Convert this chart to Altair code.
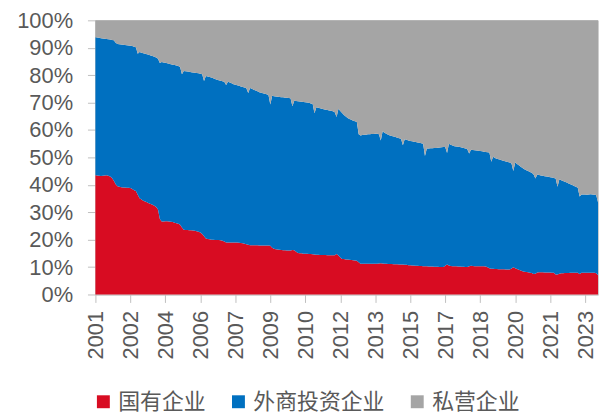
import altair as alt
import pandas as pd

# Monthly shares (%); one inner list per year block (12 months each).
# Cumulative share of 国有企业 + 外商投资企业 (top of the blue area)
state_foreign_cum = [
    [93.8, 93.7, 93.6, 93.5, 93.4, 93.3, 93.2, 93.1, 93.0, 92.8, 92.7, 91.8],
    [91.4, 91.3, 91.2, 91.1, 91.0, 90.9, 90.8, 90.7, 90.6, 90.4, 90.2, 87.8],
    [88.4, 88.2, 88.0, 87.8, 87.6, 87.4, 87.2, 87.0, 86.7, 86.4, 86.0, 84.4],
    [84.8, 84.6, 84.5, 84.3, 84.2, 84.0, 83.8, 83.7, 83.5, 83.3, 83.0, 80.3],
    [81.5, 81.4, 81.3, 81.2, 81.1, 81.0, 80.9, 80.8, 80.7, 80.5, 80.3, 77.9],
    [79.7, 79.5, 79.3, 79.1, 78.9, 78.6, 78.3, 78.1, 78.0, 77.8, 77.6, 76.4],
    [77.6, 77.3, 77.0, 76.7, 76.5, 76.3, 76.1, 75.9, 75.7, 75.5, 75.2, 73.5],
    [75.3, 75.0, 74.7, 74.4, 74.1, 73.8, 73.6, 73.4, 73.2, 73.0, 72.8, 69.3],
    [72.5, 72.3, 72.2, 72.1, 72.0, 71.9, 71.9, 71.8, 71.8, 71.7, 71.6, 68.7],
    [70.7, 70.6, 70.5, 70.4, 70.3, 70.2, 70.1, 70.0, 69.9, 69.7, 69.5, 66.1],
    [68.3, 68.1, 67.9, 67.7, 67.6, 67.4, 67.3, 67.1, 67.0, 66.8, 66.5, 64.7],
    [67.7, 66.9, 66.2, 65.5, 64.9, 64.4, 64.0, 63.7, 63.4, 63.2, 62.9, 58.4],
    [58.0, 58.2, 58.3, 58.3, 58.4, 58.4, 58.5, 58.5, 58.6, 58.6, 58.4, 56.2],
    [59.5, 59.0, 58.6, 58.3, 58.0, 57.8, 57.6, 57.4, 57.2, 57.0, 56.8, 54.4],
    [56.6, 56.4, 56.2, 56.0, 55.9, 55.7, 55.6, 55.4, 55.3, 55.2, 55.0, 50.5],
    [53.2, 53.2, 53.3, 53.3, 53.4, 53.4, 53.5, 53.6, 53.7, 53.8, 53.8, 51.6],
    [55.0, 54.6, 54.3, 54.1, 54.0, 53.9, 53.8, 53.6, 53.4, 53.2, 53.0, 51.4],
    [52.8, 52.7, 52.6, 52.5, 52.4, 52.3, 52.2, 52.1, 52.0, 51.9, 51.8, 48.4],
    [50.2, 49.8, 49.5, 49.3, 49.1, 48.9, 48.7, 48.5, 48.3, 48.1, 47.8, 45.0],
    [48.1, 47.6, 47.1, 46.6, 46.1, 45.7, 45.3, 45.0, 44.7, 44.4, 43.8, 42.3],
    [43.8, 43.6, 43.4, 43.3, 43.1, 43.0, 42.9, 42.8, 42.7, 42.5, 42.3, 39.3],
    [42.0, 41.7, 41.4, 41.1, 40.8, 40.5, 40.2, 39.9, 39.6, 39.3, 38.9, 35.7],
    [36.5, 36.5, 36.5, 36.4, 36.5, 36.6, 36.5, 36.4, 36.3, 33.6],
]

# Share of 国有企业 (top of the red area)
state_share = [
    [43.5, 43.4, 43.3, 43.2, 43.3, 43.4, 43.5, 43.3, 43.0, 42.5, 41.5, 40.2],
    [39.5, 39.3, 39.1, 39.0, 39.0, 38.9, 38.9, 38.8, 38.5, 38.0, 37.7, 36.4],
    [35.1, 34.6, 34.2, 33.9, 33.6, 33.3, 33.0, 32.7, 32.4, 31.9, 31.0, 27.5],
    [26.6, 26.6, 26.7, 26.7, 26.6, 26.5, 26.4, 26.2, 26.0, 25.8, 25.4, 24.4],
    [23.6, 23.5, 23.5, 23.4, 23.4, 23.3, 23.2, 23.1, 22.9, 22.6, 22.1, 21.2],
    [20.4, 20.2, 20.1, 20.0, 20.0, 19.9, 19.9, 19.9, 19.8, 19.6, 19.3, 19.0],
    [19.0, 19.0, 19.0, 19.0, 19.0, 19.0, 18.9, 18.8, 18.7, 18.5, 18.3, 18.1],
    [18.0, 18.0, 18.0, 18.0, 18.0, 17.9, 17.9, 17.9, 17.9, 17.9, 17.9, 17.8],
    [17.0, 16.7, 16.5, 16.4, 16.3, 16.2, 16.1, 16.1, 16.0, 16.0, 16.0, 16.2],
    [16.1, 15.6, 15.1, 15.0, 15.0, 14.9, 14.9, 14.9, 14.8, 14.8, 14.7, 14.6],
    [14.5, 14.5, 14.4, 14.4, 14.4, 14.4, 14.3, 14.3, 14.3, 14.3, 14.3, 14.8],
    [14.2, 13.5, 12.9, 12.9, 12.8, 12.8, 12.7, 12.6, 12.5, 12.4, 12.3, 11.8],
    [11.2, 11.2, 11.2, 11.2, 11.2, 11.2, 11.2, 11.2, 11.2, 11.2, 11.3, 11.4],
    [11.3, 11.2, 11.2, 11.1, 11.1, 11.1, 11.0, 11.0, 11.0, 10.9, 10.9, 10.9],
    [10.8, 10.8, 10.7, 10.7, 10.6, 10.6, 10.5, 10.5, 10.4, 10.4, 10.3, 10.3],
    [10.3, 10.2, 10.2, 10.2, 10.1, 10.1, 10.1, 10.0, 10.0, 10.0, 10.5, 10.9],
    [10.6, 10.4, 10.3, 10.3, 10.3, 10.2, 10.2, 10.1, 10.1, 10.0, 10.0, 10.3],
    [10.5, 10.4, 10.3, 10.3, 10.3, 10.3, 10.3, 10.3, 10.2, 9.9, 9.6, 9.4],
    [9.4, 9.3, 9.3, 9.2, 9.2, 9.2, 9.2, 9.1, 9.1, 9.1, 9.5, 9.9],
    [9.6, 9.3, 9.0, 8.7, 8.5, 8.3, 8.2, 8.1, 7.9, 7.8, 7.5, 7.6],
    [8.0, 8.1, 8.1, 8.1, 8.0, 8.0, 8.0, 8.0, 7.9, 7.9, 7.3, 7.3],
    [7.6, 7.7, 7.7, 7.8, 7.8, 7.8, 7.9, 7.9, 7.9, 7.9, 7.9, 7.5],
    [7.9, 7.9, 7.9, 7.9, 7.9, 7.9, 7.9, 7.9, 7.7, 7.0],
]

series_names = ["国有企业", "外商投资企业", "私营企业"]
series_colors = ["#D80C22", "#0070C0", "#A5A5A5"]
x_tick_labels = ["2001", "2002", "2004", "2006", "2007", "2009", "2010", "2012",
                 "2013", "2015", "2017", "2018", "2020", "2021", "2023"]
label_step = 19  # category-axis label interval (months)

cum = [v for blk in state_foreign_cum for v in blk]
red = [v for blk in state_share for v in blk]
n = len(cum)

rows = []
for i in range(n):
    rows.append({"idx": i, "series": series_names[0], "ord": 0, "value": red[i]})
    rows.append({"idx": i, "series": series_names[1], "ord": 1, "value": round(cum[i] - red[i], 2)})
    rows.append({"idx": i, "series": series_names[2], "ord": 2, "value": round(100 - cum[i], 2)})
df = pd.DataFrame(rows)

tick_vals = [k * label_step for k in range(len(x_tick_labels))]
label_expr = "[" + ",".join("'%s'" % s for s in x_tick_labels) + "][round(datum.value/%d)]" % label_step

FONT = "Liberation Sans"
CJK = "Noto Sans CJK SC"
TXT = "#595959"
AX = "#BFBFBF"

chart = alt.Chart(df).mark_area(interpolate="linear").encode(
    x=alt.X("idx:Q",
            scale=alt.Scale(domain=[0, n - 1], nice=False, zero=False),
            axis=alt.Axis(values=tick_vals, labelExpr=label_expr, labelAngle=-90,
                          labelAlign="right", labelBaseline="middle",
                          labelFontSize=22, labelFont=FONT, labelColor=TXT,
                          labelPadding=8, tickSize=8, tickColor=AX, domainColor=AX,
                          grid=False, title=None, labelOverlap=False)),
    y=alt.Y("value:Q", stack="zero",
            scale=alt.Scale(domain=[0, 100], nice=False),
            axis=alt.Axis(values=list(range(0, 101, 10)), labelExpr="datum.value + '%'",
                          labelFontSize=22, labelFont=FONT, labelColor=TXT,
                          labelPadding=15, tickSize=8, tickColor=AX, domainColor=AX,
                          grid=False, title=None)),
    color=alt.Color("series:N",
                    scale=alt.Scale(domain=series_names, range=series_colors),
                    legend=alt.Legend(orient="none", direction="horizontal",
                                      legendX=-3, legendY=373, title=None,
                                      symbolType="square", symbolSize=169,
                                      symbolStrokeWidth=0, symbolOpacity=1,
                                      labelFontSize=22, labelFont=CJK, labelColor=TXT,
                                      labelOffset=4, columnPadding=21, padding=0)),
    order=alt.Order("ord:Q"),
).properties(
    width=506, height=276,
    autosize=alt.AutoSizeParams(type="none"),
    padding={"left": 88, "top": 11, "right": 5, "bottom": 130},
).configure_view(
    stroke="#D0D0D0", strokeWidth=1
).configure_area(opacity=1)

chart.save("out.html", embed_options={"renderer": "svg", "actions": False})
